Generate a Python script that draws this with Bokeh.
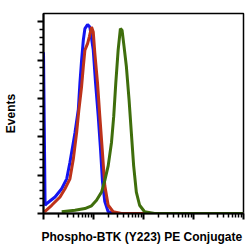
from bokeh.plotting import figure
from bokeh.models import Range1d, FixedTicker
from bokeh.embed import file_html
from bokeh.resources import INLINE

# ---- data ----
blue_x = [1.0, 1.076, 1.163, 1.70, 2.31, 2.91, 3.38, 3.95, 4.26, 4.97, 5.35, 5.78, 6.25,
          6.73, 7.61, 8.46, 9.89, 10.99, 12.43, 13.81, 15.14, 16.82, 19.66, 26.2, 10000]
blue_y = [84.2, 4.3, 5.2, 8.6, 12.9, 18.1, 26.7, 37.1, 42.2, 54.3, 68.1, 80.1, 90.4,
          96.5, 98.6, 97.3, 85.3, 68.2, 50.8, 33.6, 16.5, 6.2, 0.9, 0.0, 0.0]

red_x = [1.047, 1.46, 2.14, 2.69, 3.38, 3.95, 4.60, 5.11, 5.78, 6.25, 6.73, 7.61, 8.23,
         9.14, 9.89, 10.64, 12.04, 13.37, 14.93, 16.82, 19.66, 24.7, 36.2, 10000]
red_y = [0.9, 4.3, 8.6, 12.9, 18.1, 28.4, 42.2, 54.3, 66.3, 76.6, 85.3, 88.7, 92.1,
         97.3, 94.7, 83.6, 68.1, 50.8, 33.6, 14.6, 4.3, 0.9, 0.0, 0.0]

green_x = [2.31, 4.26, 6.73, 9.14, 11.5, 14.5, 16.8, 19.7, 22.9, 25.4, 27.9, 31.1, 34.5,
           37.3, 40.9, 45.5, 51.4, 57.1, 63.5, 71.9, 83.6, 105.2, 166, 10000]
green_y = [0.9, 1.7, 2.6, 4.0, 6.9, 11.2, 17.2, 25.0, 37.1, 50.8, 68.1, 85.3, 96.5,
           95.6, 87.0, 76.6, 59.4, 42.2, 25.0, 11.2, 4.3, 0.9, 0.0, 0.0]

x_major_ticks = [1, 10, 100, 1000, 10000]
x_minor_ticks = [2, 3, 4, 5, 6, 7, 8, 9,
                 20, 30, 40, 50, 60, 70, 80, 90,
                 200, 300, 400, 500, 600, 700, 800, 900,
                 2000, 3000, 4000, 5000, 6000, 7000, 8000, 9000]
y_major_ticks = [0, 20, 40, 60, 80, 100]
y_minor_ticks = [4, 8, 12, 16, 24, 28, 32, 36, 44, 48, 52, 56,
                 64, 68, 72, 76, 84, 88, 92, 96]

x_label = "Phospho-BTK (Y223) PE  Conjugate"
y_label = "Events"

p = figure(width=246, height=246, x_axis_type="log",
           x_range=Range1d(1, 10000), y_range=Range1d(0, 104.4),
           output_backend="svg", toolbar_location=None,
           min_border_left=42, min_border_right=3, min_border_top=13, min_border_bottom=31)

p.background_fill_color = "white"
p.border_fill_color = "white"
p.outline_line_color = "black"
p.outline_line_width = 1.5
p.grid.visible = False

p.xaxis.ticker = FixedTicker(ticks=x_major_ticks, minor_ticks=x_minor_ticks)
p.yaxis.ticker = FixedTicker(ticks=y_major_ticks, minor_ticks=y_minor_ticks)

for ax in (p.xaxis[0], p.yaxis[0]):
    ax.axis_line_color = "black"
    ax.axis_line_width = 2
    ax.major_tick_line_color = "black"
    ax.major_tick_line_width = 2
    ax.minor_tick_line_color = "black"
    ax.minor_tick_line_width = 1.5
    ax.major_tick_in = 0
    ax.major_tick_out = 6
    ax.minor_tick_in = 0
    ax.minor_tick_out = 4
    ax.major_label_text_font_size = "1px"
    ax.major_label_text_alpha = 0
    ax.major_label_standoff = 0
    ax.axis_label_text_font = "Liberation Sans"
    ax.axis_label_text_font_style = "bold"
    ax.axis_label_text_color = "black"

p.xaxis.axis_label = x_label
p.xaxis.axis_label_text_font_size = "12px"
p.xaxis.axis_label_standoff = 10
p.yaxis.axis_label = y_label
p.yaxis.axis_label_text_font_size = "12px"
p.yaxis.axis_label_standoff = 20

p.line(blue_x, blue_y, line_color="#1414f0", line_width=3)
p.line(red_x, red_y, line_color="#bd321a", line_width=3)
p.line(green_x, green_y, line_color="#3f6e0c", line_width=3)

open("out.html", "w").write(file_html(p, INLINE))
